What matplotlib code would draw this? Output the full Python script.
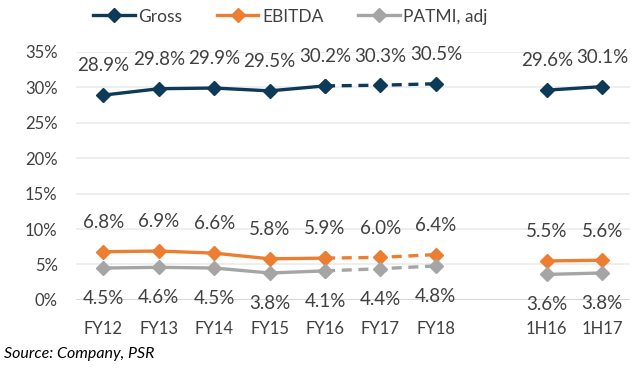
import numpy as np
import matplotlib.pyplot as plt
from matplotlib.lines import Line2D

categories = ["FY12", "FY13", "FY14", "FY15", "FY16", "FY17", "FY18", "", "1H16", "1H17"]
gross = [28.9, 29.8, 29.9, 29.5, 30.2, 30.3, 30.5, np.nan, 29.6, 30.1]
ebitda = [6.8, 6.9, 6.6, 5.8, 5.9, 6.0, 6.4, np.nan, 5.5, 5.6]
patmi = [4.5, 4.6, 4.5, 3.8, 4.1, 4.4, 4.8, np.nan, 3.6, 3.8]
yticks = [0, 5, 10, 15, 20, 25, 30, 35]

# FY17 and FY18 are forecasts, drawn dashed
actual_idx = [0, 1, 2, 3, 4]
forecast_idx = [4, 5, 6]
half_idx = [8, 9]

plt.rcParams['font.family'] = ['Lato', 'DejaVu Sans']
text_color = '#404040'

fig = plt.figure(figsize=(6.42, 3.68), dpi=100)
ax = fig.add_axes([0.118, 0.185, 0.863, 0.674])

x = np.arange(len(categories))
series = [
    (gross, '#0d3a58', 'Gross', 21, 'above'),
    (ebitda, '#ed7d31', 'EBITDA', 21, 'above'),
    (patmi, '#a5a5a5', 'PATMI, adj', -22, 'below'),
]

for vals, color, name, offset, where in series:
    vals = np.array(vals) / 100
    for idx, ls in [(actual_idx, '-'), (forecast_idx, '--'), (half_idx, '-')]:
        ax.plot(x[idx], vals[idx], color=color, lw=2.4, ls=ls, marker='D',
                markersize=7, clip_on=False, zorder=3, dashes=(3, 2) if ls == '--' else (None, None))
    for xi, v in zip(x, vals):
        if np.isnan(v):
            continue
        ax.annotate(f"{v*100:.1f}%", (xi, v), xytext=(0, offset), textcoords='offset points',
                    ha='center', va='center', fontsize=13.5, color=text_color)

ax.set_xlim(-0.5, len(categories) - 0.5)
ax.set_ylim(0, 0.35)
ax.set_yticks(np.array(yticks) / 100)
ax.set_yticklabels([f"{t}%" for t in yticks])
ax.set_xticks(x)
ax.set_xticklabels(categories)
ax.tick_params(axis='both', length=0, labelsize=12, colors=text_color)
ax.tick_params(axis='y', pad=13)
ax.tick_params(axis='x', pad=15)
ax.grid(axis='y', color='#ebebeb', lw=1.2)
ax.set_axisbelow(True)
ax.axhline(0, color='#d0d0d0', lw=1.2, zorder=1)
for sp in ax.spines.values():
    sp.set_visible(False)

handles = [Line2D([], [], color=c, lw=2.4, marker='D', markersize=7) for _, c, _, _, _ in series]
fig.legend(handles, [s[2] for s in series], loc='center', bbox_to_anchor=(0.452, 0.955),
           ncol=3, frameon=False, fontsize=12.5, labelcolor=text_color,
           handlelength=2.4, handletextpad=0.2, columnspacing=2.0)

fig.text(0.006, 0.028, "Source: Company, PSR", fontsize=11.5, style='italic', color='black')

fig.savefig("out.png", dpi=100)
